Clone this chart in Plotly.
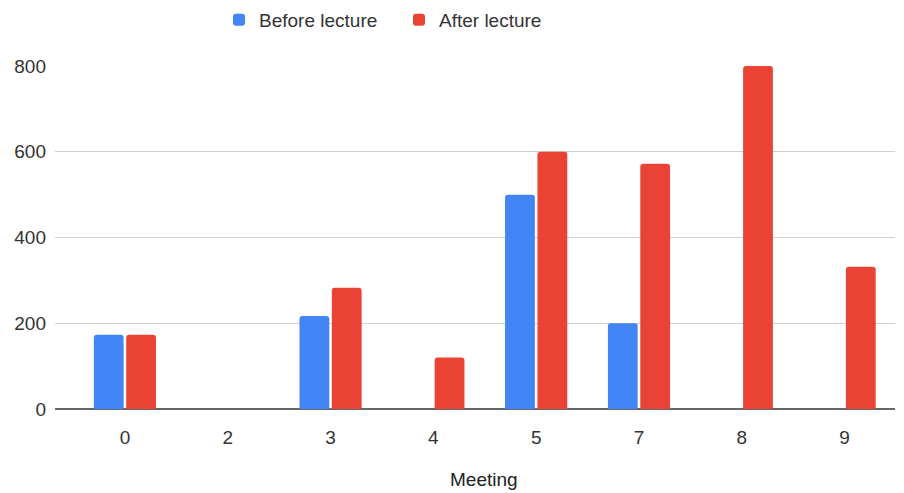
import plotly.graph_objects as go

meetings = ["0", "2", "3", "4", "5", "7", "8", "9"]
before_lecture = [173, 0, 217, 0, 500, 200, 0, 0]
after_lecture = [173, 0, 283, 120, 600, 572, 800, 332]
y_ticks = [0, 200, 400, 600, 800]

idx = list(range(len(meetings)))

fig = go.Figure()
fig.add_trace(go.Bar(x=idx, y=before_lecture, name="Before lecture",
                     marker=dict(color="#4285F4", cornerradius=3, line=dict(width=0))))
fig.add_trace(go.Bar(x=idx, y=after_lecture, name="After lecture",
                     marker=dict(color="#EA4335", cornerradius=3, line=dict(width=0))))

font_family = "Liberation Sans, Arial, sans-serif"
text_color = "#333333"
W, H = 896, 485
fig.update_layout(
    width=W, height=H,
    margin=dict(l=47, r=9, t=58, b=84, autoexpand=False),
    paper_bgcolor="white", plot_bgcolor="white",
    barmode="group", bargap=0.37, bargroupgap=0.08,
    font=dict(family=font_family, size=19, color=text_color),
    showlegend=True,
    legend=dict(orientation="h", xref="container", yref="container",
                x=211 / W, xanchor="left",
                y=1 - 12 / H, yanchor="middle",
                font=dict(size=19, color=text_color),
                entrywidth=135, entrywidthmode="pixels",
                traceorder="normal"),
    xaxis=dict(
        tickmode="array", tickvals=idx, ticktext=meetings,
        range=[-0.68, 7.49], showgrid=False, zeroline=False,
        showline=False, ticks="", ticklabelstandoff=15, automargin=False,
        tickfont=dict(size=19, color=text_color),
    ),
    yaxis=dict(
        range=[0, 800], tickvals=y_ticks, showgrid=True, gridcolor="#d0d0d0",
        gridwidth=1, zeroline=True, zerolinecolor="#666666", zerolinewidth=1.5,
        ticks="", ticklabelstandoff=8, automargin=False,
        tickfont=dict(size=19, color=text_color),
    ),
    annotations=[dict(text="Meeting", xref="paper", yref="paper",
                      x=(484 - 55) / 840, y=-(480 - 409) / 343,
                      xanchor="center", yanchor="middle", showarrow=False,
                      font=dict(size=19, color="#222222"))],
)

fig.write_html("out.html")
